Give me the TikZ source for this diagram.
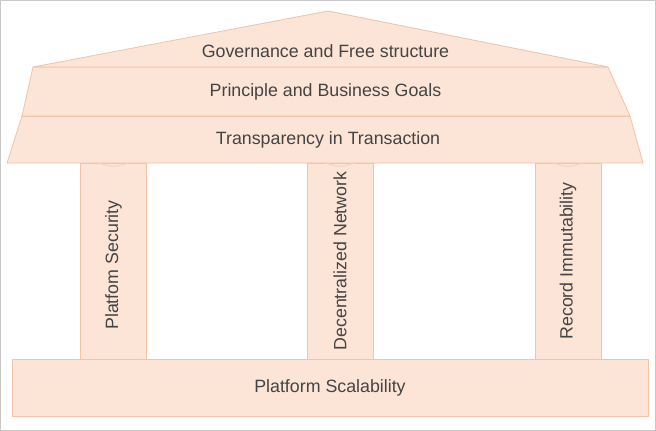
\documentclass[tikz,border=0pt]{standalone}
\usepackage{fontspec}
\setmainfont{Liberation Sans}
\usetikzlibrary{positioning}
\definecolor{peach}{HTML}{FCE4D6}
\definecolor{peachline}{HTML}{F2C3A6}
\definecolor{peachdark}{HTML}{EBA987}
\definecolor{textgray}{HTML}{444444}
\definecolor{framegray}{HTML}{C8C8C8}

\begin{document}
\begin{tikzpicture}[x=1pt,y=-1pt,font=\fontsize{17.8}{20}\selectfont]
	\tikzstyle{slab}=[fill=peach, draw=peachline, line width=0.8pt, line join=round]
	\tikzstyle{column}=[rectangle, fill=peach, draw=peachline, line width=0.8pt, minimum width=66pt, minimum height=196pt, inner sep=0pt]
	\tikzstyle{label}=[text=textgray, inner sep=0pt]

	\useasboundingbox (0,0) rectangle (656,431);
	\draw [framegray, line width=1pt] (0.5,0.5) rectangle (655.5,430.5);

	% base
	\node [column, minimum width=636pt, minimum height=57pt] (base) at (330,387.5) {};
	\node [label] (scal) at (base.center) {Platform Scalability};

	% columns
	\node [column] (sec) at (113.5,261) {};
	\node [column] (net) at (340,261) {};
	\node [column] (imm) at (568,261) {};
	\node [label, rotate=90] at ([yshift=-4pt]sec.center) {Platfom Security};
	\node [label, rotate=90] at (net.center) {Decentralized Network};
	\node [label, rotate=90] at (imm.center) {Record Immutability};

	% roof
	\draw [slab] (7,163) -- (22,116) -- (630,116) -- (643,163) -- cycle;
	\draw [slab] (22,116) -- (33,67) -- (608,67) -- (630,116) -- cycle;
	\draw [slab] (33,67) -- (328,11) -- (608,67) -- cycle;
	\draw [peachdark!70, line width=0.8pt] (22,116) -- (630,116);

	\foreach \c in {sec,net,imm}
		\draw [peachdark!50, line width=1pt] ([xshift=-16pt]\c.north) .. controls ([yshift=-5pt]\c.north) .. ([xshift=16pt]\c.north);

	\node [label] (gov) at (325.5,51) {Governance and Free structure};
	\node [label] (goal) at (325.5,92) {Principle and Business Goals};
	\node [label] (tran) at (328,140) {Transparency in Transaction};
\end{tikzpicture}
\end{document}
